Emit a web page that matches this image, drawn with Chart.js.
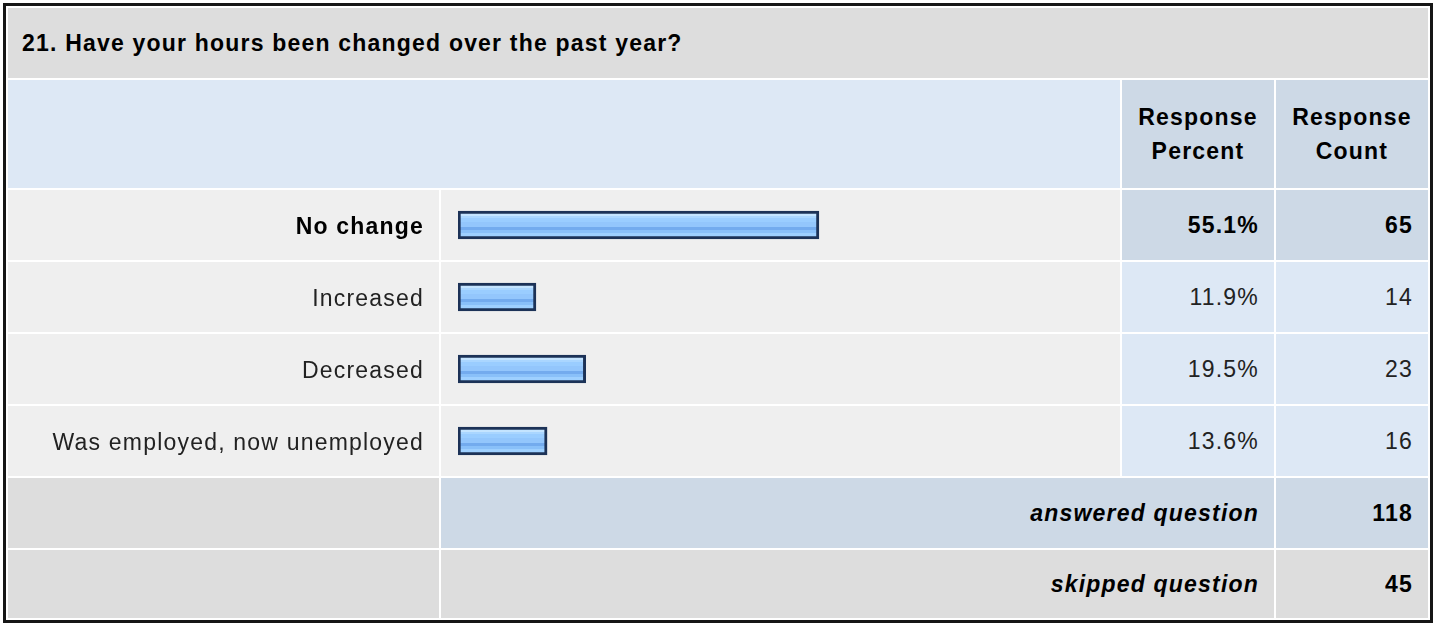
<!DOCTYPE html>
<html>
<head>
<meta charset="utf-8">
<script src="https://cdn.jsdelivr.net/npm/chart.js@4"></script>
<style>
  html, body { margin: 0; padding: 0; background: #fff; }
  body { width: 1438px; height: 623px; position: relative; overflow: hidden;
         font-family: "Liberation Sans", Arial, sans-serif; font-size: 23px; letter-spacing: 1.2px; }
  #frame { position: absolute; left: 3px; top: 3px; width: 1430px; height: 620px;
           box-sizing: border-box; border: 3px solid #161616; }
  .cell { position: absolute; box-sizing: border-box; display: flex; align-items: center; color: #222; }
  .right { justify-content: flex-end; padding-right: 15px; }
  .center { justify-content: center; text-align: center; }
  .b { font-weight: bold; color: #000; }
  .bi { font-weight: bold; font-style: italic; color: #000; }
  #chartBox { position: absolute; left: 8px; top: 189px; width: 1112px; height: 288px; }
</style>
</head>
<body>
<div id="frame"></div>
<div id="cells"></div>
<div id="chartBox"><canvas id="bars" width="1112" height="288"></canvas></div>
<script>
const question = "21. Have your hours been changed over the past year?";
const categories = ["No change", "Increased", "Decreased", "Was employed, now unemployed"];
const percents = [55.1, 11.9, 19.5, 13.6];
const counts = [65, 14, 23, 16];
const answeredCount = 118;
const skippedCount = 45;

const GRAY = "#dddddd", LIGHT = "#efefef", BLUE = "#dde8f5", DARKBLUE = "#cdd9e6";
const topIdx = percents.indexOf(Math.max(...percents));

const cellsEl = document.getElementById("cells");
function cell(x1, y1, x2, y2, bg, html, cls) {
  const d = document.createElement("div");
  d.className = "cell " + (cls || "");
  d.style.left = x1 + "px";
  d.style.top = y1 + "px";
  d.style.width = (x2 - x1) + "px";
  d.style.height = (y2 - y1) + "px";
  d.style.background = bg;
  if (html) d.innerHTML = html;
  cellsEl.appendChild(d);
  return d;
}

// title + header
cell(8, 8, 1428, 78, GRAY, "<span class='b'>" + question + "</span>").style.paddingLeft = "14px";
cell(8, 80, 1120, 188, BLUE);
cell(1122, 80, 1274, 188, DARKBLUE, "<span class='b' style='line-height:34px'>Response<br>Percent</span>", "center");
cell(1276, 80, 1428, 188, DARKBLUE, "<span class='b' style='line-height:34px'>Response<br>Count</span>", "center");

// answer rows (labels + bars come from the chart)
categories.forEach((c, i) => {
  const y1 = 190 + i * 72, y2 = y1 + 70;
  const top = i === topIdx;
  const bg = top ? DARKBLUE : BLUE;
  const wrap = t => top ? "<span class='b'>" + t + "</span>" : t;
  cell(8, y1, 439, y2, LIGHT);
  cell(441, y1, 1120, y2, LIGHT);
  cell(1122, y1, 1274, y2, bg, wrap(percents[i].toFixed(1) + "%"), "right");
  cell(1276, y1, 1428, y2, bg, wrap(String(counts[i])), "right");
});

// summary rows
cell(8, 478, 439, 548, GRAY);
cell(441, 478, 1274, 548, DARKBLUE, "<span class='bi'>answered question</span>", "right");
cell(1276, 478, 1428, 548, DARKBLUE, "<span class='b'>" + answeredCount + "</span>", "right");
cell(8, 550, 439, 618, GRAY);
cell(441, 550, 1274, 618, GRAY, "<span class='bi'>skipped question</span>", "right");
cell(1276, 550, 1428, 618, GRAY, "<span class='b'>" + skippedCount + "</span>", "right");

// banded blue fill like the original bar image
function barFill(ctx) {
  const chart = ctx.chart;
  const y = chart.scales && chart.scales.y;
  if (ctx.type !== "data" || !y) return "#93c6fc";
  const c = y.getPixelForValue(ctx.dataIndex);
  if (!Number.isFinite(c)) return "#93c6fc";
  const g = chart.ctx.createLinearGradient(0, c - 14, 0, c + 14);
  const bands = [
    [0.10, "#c4e4ff"], [0.167, "#aad6ff"], [0.267, "#9acdff"], [0.41, "#93c6fc"],
    [0.556, "#73abee"], [0.689, "#89c0f9"], [0.778, "#9ed0ff"], [0.92, "#9ed0ff"]
  ];
  for (let k = 0; k < bands.length - 1; k++) {
    g.addColorStop(bands[k][0], bands[k][1]);
    g.addColorStop(bands[k + 1][0], bands[k][1]);
  }
  g.addColorStop(0, "#c4e4ff");
  g.addColorStop(1, "#9ed0ff");
  return g;
}

const spacing = {
  id: "spacing",
  beforeDraw(chart) { chart.ctx.letterSpacing = "1.2px"; }
};

new Chart(document.getElementById("bars"), {
  type: "bar",
  data: {
    labels: categories,
    datasets: [{
      data: percents,
      backgroundColor: barFill,
      borderColor: "#1c3257",
      borderWidth: 3,
      borderSkipped: false,
      barThickness: 28
    }]
  },
  options: {
    indexAxis: "y",
    responsive: false,
    animation: false,
    layout: { padding: { left: 0, right: 7, top: 0, bottom: 0 } },
    plugins: { legend: { display: false }, tooltip: { enabled: false } },
    scales: {
      x: { display: false, min: 0, max: 100 },
      y: {
        afterFit: s => { s.width = 450; s.paddingTop = 0; s.paddingBottom = 0; },
        grid: { display: false, drawTicks: false },
        border: { display: false },
        ticks: {
          padding: 34,
          labelOffset: 3,
          color: c => c.index === topIdx ? "#000" : "#222",
          font: c => ({ family: "'Liberation Sans', Arial, sans-serif", size: 23,
                        weight: c.index === topIdx ? "bold" : "normal" })
        }
      }
    }
  },
  plugins: [spacing]
});
</script>
</body>
</html>
